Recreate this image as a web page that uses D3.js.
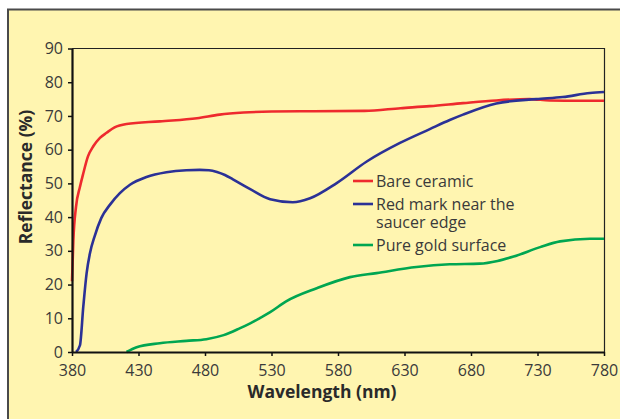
<!DOCTYPE html>
<html>
<head>
<meta charset="utf-8">
<script src="https://cdn.jsdelivr.net/npm/d3@7"></script>
<style>
  body { margin: 0; background: #fff; }
  svg { display: block; font-family: "Open Sans", "Noto Sans", sans-serif; }
</style>
</head>
<body>
<svg id="chart"></svg>
<script>
// wavelength (nm) / reflectance (%)
var ceramicNm  = [380, 381, 383, 386, 388.5, 392, 396, 401, 406, 412, 421, 446, 474, 491, 509, 530, 560, 600, 627, 649, 674, 699, 724, 739, 762, 780];
var ceramicPct = [21, 33, 43, 49, 53, 58, 61, 63.5, 65, 66.6, 67.6, 68.4, 69.3, 70.4, 71.0, 71.3, 71.4, 71.5, 72.3, 72.9, 73.8, 74.6, 75.0, 74.6, 74.5, 74.5];

var markNm  = [383, 386, 388.5, 391, 393.5, 397, 402, 408.6, 416, 423.6, 436, 451, 466, 476, 483, 489, 495, 501, 514, 529, 546, 559, 579, 601.6, 626.6, 649, 664, 674, 699, 729, 749, 769.5, 780];
var markPct = [0, 2, 13.5, 23.4, 29.3, 34.3, 39.7, 43.7, 47.1, 49.6, 51.9, 53.3, 53.9, 54, 53.9, 53.4, 52.5, 51.2, 48.3, 45.3, 44.4, 45.6, 50.1, 56.5, 62, 66.1, 68.8, 70.4, 73.7, 75, 75.6, 76.8, 77.1];

var goldNm  = [421, 428.6, 446, 466, 481, 494, 506, 514, 521, 529, 541, 564, 589, 609, 639, 664, 686.5, 700, 712, 732, 747, 769.5, 780];
var goldPct = [0, 1.4, 2.6, 3.3, 3.8, 5, 7, 8.5, 10, 11.8, 15, 18.9, 22.2, 23.4, 25.2, 26, 26.2, 27, 28.3, 31.1, 32.8, 33.6, 33.6];

var xTicks = [380, 430, 480, 530, 580, 630, 680, 730, 780];
var yTicks = [0, 10, 20, 30, 40, 50, 60, 70, 80, 90];
var legendNames = ["Bare ceramic", "Red mark near the|saucer edge", "Pure gold surface"];

var svg = d3.select("#chart")
    .attr("width", 620)
    .attr("height", 419);

// yellow panel
svg.append("rect")
    .attr("x", 8)
    .attr("y", 9.5)
    .attr("width", 620)
    .attr("height", 420)
    .attr("fill", "#fff5b0")
    .attr("stroke", "#4a4a4a")
    .attr("stroke-width", 2);

var x = d3.scaleLinear().domain([380, 780]).range([72, 604]);
var y = d3.scaleLinear().domain([0, 90]).range([352, 48.5]);

// thin frame on top and right
svg.append("path")
    .attr("d", "M72,48.5H604.5V352")
    .attr("fill", "none")
    .attr("stroke", "#222")
    .attr("stroke-width", 1.2);

var series = [
    {nm: ceramicNm, pct: ceramicPct, color: "#ee2a2e"},
    {nm: markNm, pct: markPct, color: "#2b3196"},
    {nm: goldNm, pct: goldPct, color: "#00a651"}
];

var line = d3.line()
    .x(function(d) { return x(d[0]); })
    .y(function(d) { return y(d[1]); })
    .curve(d3.curveMonotoneX);

series.forEach(function(s) {
    svg.append("path")
        .datum(d3.zip(s.nm, s.pct))
        .attr("d", line)
        .attr("fill", "none")
        .attr("stroke", s.color)
        .attr("stroke-width", 2.6)
        .attr("stroke-linejoin", "round");
});

var yAxis = svg.append("g")
    .attr("transform", "translate(72,0)")
    .call(d3.axisLeft(y).tickValues(yTicks).tickSize(4).tickSizeOuter(0).tickPadding(5));

var xAxis = svg.append("g")
    .attr("transform", "translate(0,352)")
    .call(d3.axisBottom(x).tickValues(xTicks).tickSize(4).tickSizeOuter(0).tickPadding(9));

[xAxis, yAxis].forEach(function(a) {
    a.select(".domain").attr("stroke", "#111").attr("stroke-width", 2.2);
    a.selectAll(".tick line").attr("stroke", "#111").attr("stroke-width", 1.5);
    a.selectAll(".tick text")
        .attr("fill", "#3a3a3a")
        .style("font-size", "16px")
        .style("font-family", "'Open Sans', sans-serif");
});

svg.append("text")
    .text("Wavelength (nm)")
    .attr("x", 322)
    .attr("y", 398)
    .attr("text-anchor", "middle")
    .attr("fill", "#2a2a2a")
    .style("font-size", "17.5px")
    .style("font-weight", "bold");

svg.append("text")
    .text("Reflectance (%)")
    .attr("transform", "translate(32,177) rotate(-90)")
    .attr("text-anchor", "middle")
    .attr("fill", "#2a2a2a")
    .style("font-size", "17.5px")
    .style("font-weight", "bold");

// legend
var legendY = [181, 204, 245];
legendNames.forEach(function(name, i) {
    svg.append("line")
        .attr("x1", 353)
        .attr("x2", 373)
        .attr("y1", legendY[i])
        .attr("y2", legendY[i])
        .attr("stroke", series[i].color)
        .attr("stroke-width", 2.6);

    var t = svg.append("text")
        .attr("x", 376)
        .attr("y", legendY[i] + 5.5)
        .attr("fill", "#3a3a3a")
        .style("font-size", "16px");
    name.split("|").forEach(function(part, j) {
        t.append("tspan")
            .attr("x", 376)
            .attr("dy", j === 0 ? 0 : 18)
            .text(part);
    });
});
</script>
</body>
</html>
